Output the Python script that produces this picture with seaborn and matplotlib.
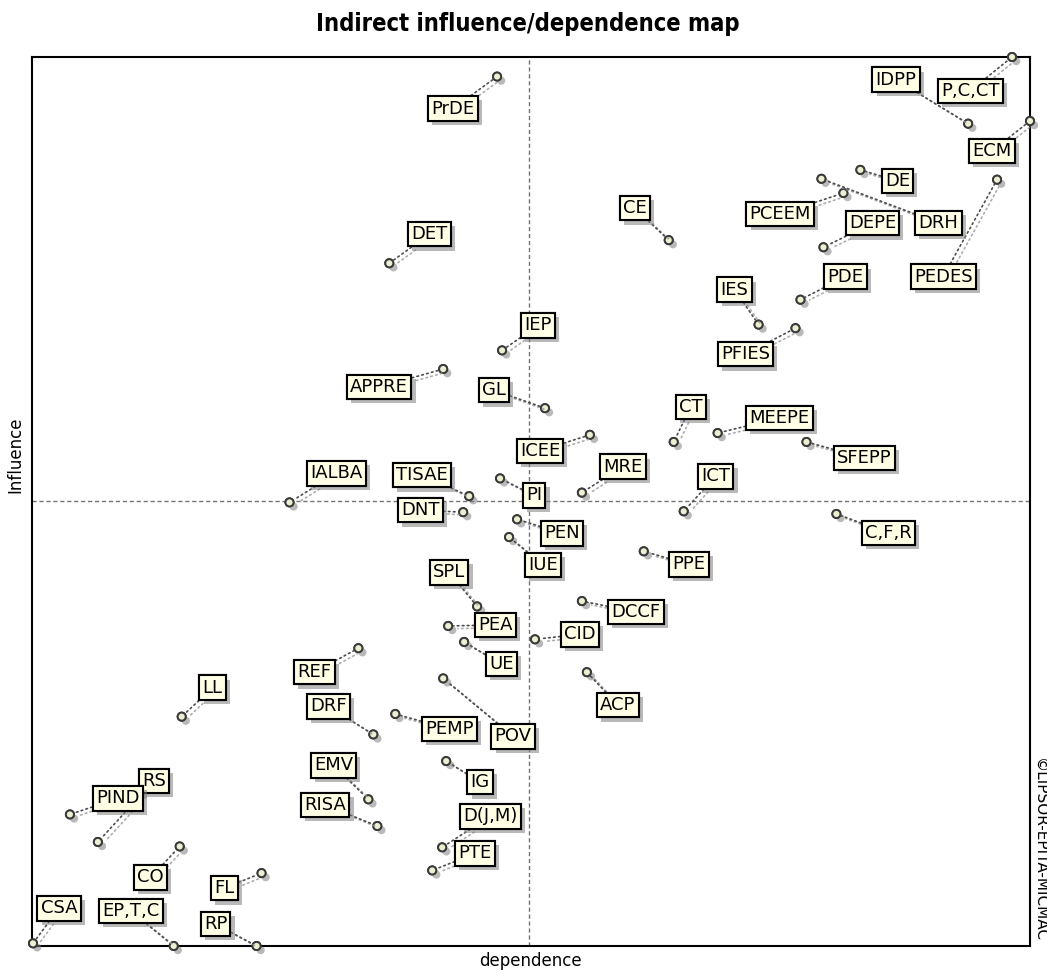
import pandas as pd
import matplotlib.pyplot as plt
import matplotlib.patheffects as pe
import seaborn as sns

# variables of the MICMAC analysis (indirect values, rescaled 0-1000)
variables = ["IDPP", "P,C,CT", "ECM", "PEDES", "DE", "DRH", "PCEEM", "DEPE",
             "PDE", "IES", "PFIES", "CE", "PrDE", "DET", "IEP", "APPRE", "GL",
             "CT", "MEEPE", "SFEPP", "ICEE", "MRE", "ICT", "IALBA", "TISAE",
             "DNT", "PI", "PEN", "IUE", "C,F,R", "PPE", "SPL", "PEA", "UE",
             "DCCF", "CID", "ACP", "LL", "REF", "DRF", "POV", "PEMP", "EMV",
             "RISA", "IG", "D(J,M)", "PTE", "RS", "PIND", "CO", "FL", "CSA",
             "EP,T,C", "RP"]
dependence = [938, 982, 1000, 967, 830, 791, 813, 793,
              770, 728, 765, 638, 466, 358, 471, 412, 514,
              643, 687, 776, 559, 551, 653, 258, 438,
              432, 469, 486, 478, 806, 613, 446, 417, 433,
              551, 504, 556, 150, 327, 342, 412, 364, 337,
              346, 415, 411, 401, 66, 38, 148, 230, 1,
              142, 225]
influence = [925, 1000, 928, 862, 873, 863, 847, 786,
             727, 699, 695, 794, 978, 768, 670, 649, 605,
             567, 577, 567, 575, 510, 489, 499, 506,
             488, 526, 480, 460, 486, 444, 382, 360, 342,
             388, 345, 308, 258, 335, 238, 301, 261, 165,
             135, 208, 111, 85, 117, 148, 112, 82, 3,
             0, 0]
dep_mean = 498
inf_mean = 501

# position of each label relative to its point (pixels)
label_dx = [-72, -42, -38, -54, 37, 117, -63, 49,
            45, -24, -50, -34, -44, 40, 36, -64, -51,
            17, 62, 58, -50, 41, 32, 47, -47,
            -43, 34, 45, 34, 52, 45, -28, 47, 37,
            54, 45, 31, 31, -44, -45, 70, 54, -35,
            -52, 34, 48, 43, 56, 48, -29, -37, 26,
            -43, -41]
label_dy = [44, -34, -30, -97, -11, -44, -21, 24,
            23, 35, -26, 32, -32, 29, 25, -18, 18,
            35, 15, -16, -16, 26, 35, 29, 21,
            2, -17, -14, -28, -19, -13, 34, 1, -22,
            -11, 5, -33, 29, -24, 28, -58, -15, 34,
            21, -21, 31, 17, 61, 16, -31, -15, 35,
            35, 22]

df = pd.DataFrame({"variable": variables, "dependence": dependence,
                   "influence": influence})

sns.set_style("white")
plt.rcParams["font.family"] = ["DejaVu Sans"]
plt.rcParams["text.color"] = "black"

fig = plt.figure(figsize=(10.47, 9.76), dpi=100)
ax = fig.add_axes([32 / 1047, 30 / 976, 998 / 1047, 889 / 976])

shadow = [pe.withSimplePatchShadow(offset=(3, -3), shadow_rgbFace="0.5", alpha=0.55), pe.Normal()]

sns.scatterplot(data=df, x="dependence", y="influence", ax=ax, s=34,
                color="#eeeed0", edgecolor="#3a3a3a", linewidth=1.4,
                zorder=4, clip_on=False, legend=False)
ax.collections[0].set_path_effects(shadow)

for name, x, y, dx, dy in zip(variables, dependence, influence, label_dx, label_dy):
    t = ax.annotate(name, (x, y), xytext=(dx, dy), textcoords="offset pixels",
                    ha="center", va="center", fontsize=13, color="black", zorder=5,
                    bbox=dict(boxstyle="square,pad=0.18", fc="#ffffe6", ec="black", lw=1.5),
                    arrowprops=dict(arrowstyle="-", color="0.3", lw=1.2, ls=(0, (1, 2)),
                                    shrinkA=0, shrinkB=4))
    t.get_bbox_patch().set_path_effects(shadow)
    t.arrow_patch.set_path_effects([pe.SimpleLineShadow(offset=(3, -2), shadow_color="0.6", alpha=0.8),
                                    pe.Normal()])

ax.axvline(dep_mean, color="0.45", lw=1, ls=(0, (3, 2)), zorder=1)
ax.axhline(inf_mean, color="0.45", lw=1, ls=(0, (3, 2)), zorder=1)

ax.set_xlim(0, 1000)
ax.set_ylim(0, 1000)
ax.set_xticks([])
ax.set_yticks([])
ax.set_xlabel("")
ax.set_ylabel("")
for s in ax.spines.values():
    s.set_color("black")
    s.set_linewidth(1.5)

fig.text(528 / 1047, 1 - 24 / 976, "Indirect influence/dependence map",
         ha="center", va="center", fontsize=17, fontweight="bold", fontstretch="condensed")
fig.text(530 / 1047, 1 - 961 / 976, "dependence", ha="center", va="center", fontsize=12)
fig.text(15 / 1047, 1 - 455 / 976, "Influence", ha="center", va="center",
         fontsize=12, rotation=90)
fig.text(1040 / 1047, 1 - 850 / 976, "\u00a9LIPSOR-EPITA-MICMAC", ha="center", va="center",
         fontsize=11, rotation=-90)

fig.savefig("out.png", dpi=100)
